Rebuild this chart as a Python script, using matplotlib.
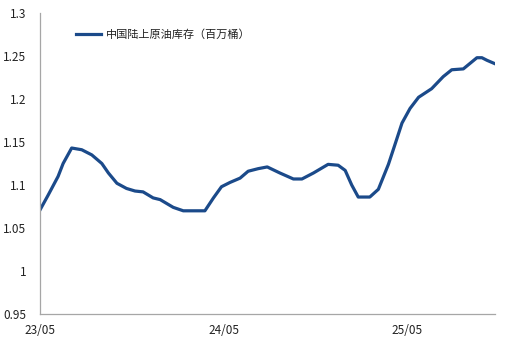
import matplotlib
matplotlib.use("Agg")
import matplotlib.pyplot as plt
import matplotlib.dates as mdates
import pandas as pd

plt.rcParams['font.family'] = ['Noto Sans CJK SC', 'DejaVu Sans']

series_name = "中国陆上原油库存（百万桶）"
dates = ["2023-05-01", "2023-05-17", "2023-06-06", "2023-06-16", "2023-07-03",
         "2023-07-23", "2023-08-12", "2023-09-01", "2023-09-14", "2023-10-01",
         "2023-10-20", "2023-11-06", "2023-11-22", "2023-12-12", "2023-12-26",
         "2024-01-21", "2024-02-10", "2024-03-24", "2024-04-10", "2024-04-26",
         "2024-05-13", "2024-06-02", "2024-06-18", "2024-07-08", "2024-07-26",
         "2024-08-20", "2024-09-16", "2024-10-03", "2024-10-26", "2024-11-24",
         "2024-12-14", "2024-12-28", "2025-01-10", "2025-01-23", "2025-02-15",
         "2025-03-04", "2025-03-24", "2025-04-06", "2025-04-20", "2025-05-06",
         "2025-05-23", "2025-06-18", "2025-07-11", "2025-07-28", "2025-08-20",
         "2025-09-16", "2025-09-26", "2025-10-06", "2025-10-22"]
values = [1.071, 1.088, 1.110, 1.125, 1.143,
          1.141, 1.135, 1.125, 1.114, 1.102,
          1.096, 1.093, 1.092, 1.085, 1.083,
          1.074, 1.070, 1.070, 1.085, 1.098,
          1.103, 1.108, 1.116, 1.119, 1.121,
          1.114, 1.107, 1.107, 1.114, 1.124,
          1.123, 1.117, 1.100, 1.086, 1.086,
          1.095, 1.124, 1.147, 1.172, 1.189,
          1.202, 1.212, 1.226, 1.234, 1.235,
          1.248, 1.248, 1.245, 1.241]
x_ticks = ["2023-05-01", "2024-05-01", "2025-05-01"]
x_tick_labels = ["23/05", "24/05", "25/05"]
y_ticks = [0.95, 1.0, 1.05, 1.1, 1.15, 1.2, 1.25, 1.3]
y_tick_labels = ["0.95", "1", "1.05", "1.1", "1.15", "1.2", "1.25", "1.3"]

x = pd.to_datetime(dates)

fig = plt.figure(figsize=(5.11, 3.41), dpi=100)
ax = fig.add_axes([40/511, 27/341, 455/511, 301/341])
ax.plot(x, values, color="#1B4A8A", lw=2.3, solid_joinstyle="round", label=series_name)

ax.set_xlim(pd.Timestamp("2023-05-01"), pd.Timestamp("2025-10-22"))
ax.set_ylim(0.95, 1.3)
ax.set_xticks(pd.to_datetime(x_ticks))
ax.set_xticklabels(x_tick_labels)
ax.set_yticks(y_ticks)
ax.set_yticklabels(y_tick_labels)
ax.tick_params(axis="y", length=0, pad=10, labelsize=8.5, labelcolor="#222222")
ax.tick_params(axis="x", length=0, pad=7, labelsize=8.5, labelcolor="#222222")
for s in ["top", "right"]:
    ax.spines[s].set_visible(False)
for s in ["left", "bottom"]:
    ax.spines[s].set_color("#A6A6A6")
    ax.spines[s].set_linewidth(0.9)

leg = ax.legend(loc="upper left", bbox_to_anchor=(0.07, 0.96), frameon=False,
                fontsize=8, handlelength=2.2, handletextpad=0.5, borderaxespad=0)
for t in leg.get_texts():
    t.set_color("#222222")

fig.savefig("out.png", dpi=100)
